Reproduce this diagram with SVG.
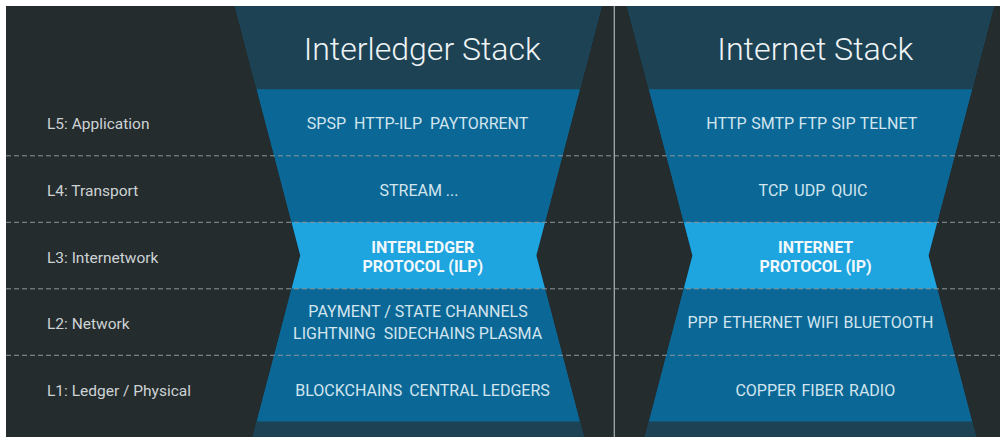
<svg xmlns="http://www.w3.org/2000/svg" width="1000" height="437" viewBox="0 0 1000 437">
  <style>
    .bg { fill: #252c2e; }
    .head { fill: #1c4253; }
    .mid { fill: #0b6896; }
    .core { fill: #1ea5e0; }
    .title { font-family: Roboto, "Open Sans", sans-serif; font-weight: 300; font-size: 32px; fill: #eef3f5; text-anchor: middle; }
    .layer { font-family: Roboto, "Open Sans", sans-serif; font-size: 15.5px; fill: #cdd3d5; }
    .proto { font-family: Roboto, "Open Sans", sans-serif; font-size: 16px; fill: #d3e5ef; text-anchor: middle; }
    .key { font-family: Roboto, "Open Sans", sans-serif; font-weight: 700; font-size: 16px; fill: #f2f8fb; text-anchor: middle; }
    .sep { stroke: #8e979a; stroke-width: 1; stroke-dasharray: 5 3; fill: none; }
    .divider { stroke: #a3aaad; stroke-width: 1.3; fill: none; }
  </style>

  <!-- page frame -->
  <rect x="0" y="0" width="1000" height="437" fill="#ffffff"/>
  <rect class="bg" x="6" y="6" width="994" height="431"/>

  <!-- layer names on the left -->
  <g id="layer-names">
    <text class="layer" x="47" y="128.5">L5: Application</text>
    <text class="layer" x="47" y="195.5">L4: Transport</text>
    <text class="layer" x="47" y="262.5">L3: Internetwork</text>
    <text class="layer" x="47" y="329">L2: Network</text>
    <text class="layer" x="47" y="395.5">L1: Ledger / Physical</text>
  </g>

  <!-- Interledger hourglass -->
  <g id="interledger-stack">
    <polygon class="mid" points="234.9,6 601.7,6 536.3,255.5 583.9,437 252.7,437 300.3,255.5"/>
    <g id="ilp-header">
      <polygon class="head" points="234.9,6 601.7,6 579.8,89.5 256.8,89.5"/>
      <text class="title" x="422.2" y="60" textLength="237" lengthAdjust="spacingAndGlyphs">Interledger Stack</text>
    </g>
    <g id="ilp-l5">
      <polygon class="mid" points="256.8,89.5 579.8,89.5 562.4,155.8 274.2,155.8"/>
      <text class="proto" x="417.6" y="128.5" word-spacing="4">SPSP HTTP-ILP PAYTORRENT</text>
    </g>
    <g id="ilp-l4">
      <polygon class="mid" points="274.2,155.8 562.4,155.8 545,222.3 291.6,222.3"/>
      <text class="proto" x="419" y="195.5">STREAM ...</text>
    </g>
    <g id="ilp-l3">
      <polygon class="core" points="291.6,222.3 545,222.3 536.3,255.5 545,288.8 291.6,288.8 300.3,255.5"/>
      <text class="key" x="422.8" y="252.7">INTERLEDGER</text>
      <text class="key" x="422.8" y="271.7">PROTOCOL (ILP)</text>
    </g>
    <g id="ilp-l2">
      <polygon class="mid" points="291.6,288.8 545,288.8 562.4,355.3 274.2,355.3"/>
      <text class="proto" x="418" y="316.5">PAYMENT / STATE CHANNELS</text>
      <text class="proto" x="417.6" y="339">LIGHTNING <tspan dx="4">SIDECHAINS PLASMA</tspan></text>
    </g>
    <g id="ilp-l1">
      <polygon class="mid" points="274.2,355.3 562.4,355.3 579.8,421.5 256.8,421.5"/>
      <text class="proto" x="422.5" y="396">BLOCKCHAINS <tspan dx="3">CENTRAL LEDGERS</tspan></text>
    </g>
    <g id="ilp-base">
      <polygon class="head" points="256.8,421.5 579.8,421.5 583.9,437 252.7,437"/>
    </g>
  </g>

  <!-- Internet hourglass -->
  <g id="internet-stack">
    <polygon class="mid" points="627.1,6 993.9,6 928.5,255.5 976.1,437 644.9,437 692.5,255.5"/>
    <g id="ip-header">
      <polygon class="head" points="627.1,6 993.9,6 972,89.5 649,89.5"/>
      <text class="title" x="815.3" y="60" textLength="196" lengthAdjust="spacingAndGlyphs">Internet Stack</text>
    </g>
    <g id="ip-l5">
      <polygon class="mid" points="649,89.5 972,89.5 954.6,155.8 666.4,155.8"/>
      <text class="proto" x="811.7" y="129" word-spacing="0.5">HTTP SMTP FTP SIP TELNET</text>
    </g>
    <g id="ip-l4">
      <polygon class="mid" points="666.4,155.8 954.6,155.8 937.2,222.3 683.8,222.3"/>
      <text class="proto" x="813" y="195.5" word-spacing="2">TCP UDP QUIC</text>
    </g>
    <g id="ip-l3">
      <polygon class="core" points="683.8,222.3 937.2,222.3 928.5,255.5 937.2,288.8 683.8,288.8 692.5,255.5"/>
      <text class="key" x="815.6" y="252.7">INTERNET</text>
      <text class="key" x="815.6" y="272.3">PROTOCOL (IP)</text>
    </g>
    <g id="ip-l2">
      <polygon class="mid" points="683.8,288.8 937.2,288.8 954.6,355.3 666.4,355.3"/>
      <text class="proto" x="810.5" y="328" word-spacing="1">PPP ETHERNET WIFI BLUETOOTH</text>
    </g>
    <g id="ip-l1">
      <polygon class="mid" points="666.4,355.3 954.6,355.3 972,421.5 649,421.5"/>
      <text class="proto" x="815.3" y="395.7" word-spacing="1.5">COPPER FIBER RADIO</text>
    </g>
    <g id="ip-base">
      <polygon class="head" points="649,421.5 972,421.5 976.1,437 644.9,437"/>
    </g>
  </g>

  <!-- layer separators and stack divider -->
  <g id="connectors">
    <line class="sep" x1="6" y1="155.8" x2="1000" y2="155.8"/>
    <line class="sep" x1="6" y1="222.3" x2="1000" y2="222.3"/>
    <line class="sep" x1="6" y1="288.8" x2="1000" y2="288.8"/>
    <line class="sep" x1="6" y1="355.3" x2="1000" y2="355.3"/>
    <line class="divider" x1="614.3" y1="6" x2="614.3" y2="437"/>
  </g>
</svg>
